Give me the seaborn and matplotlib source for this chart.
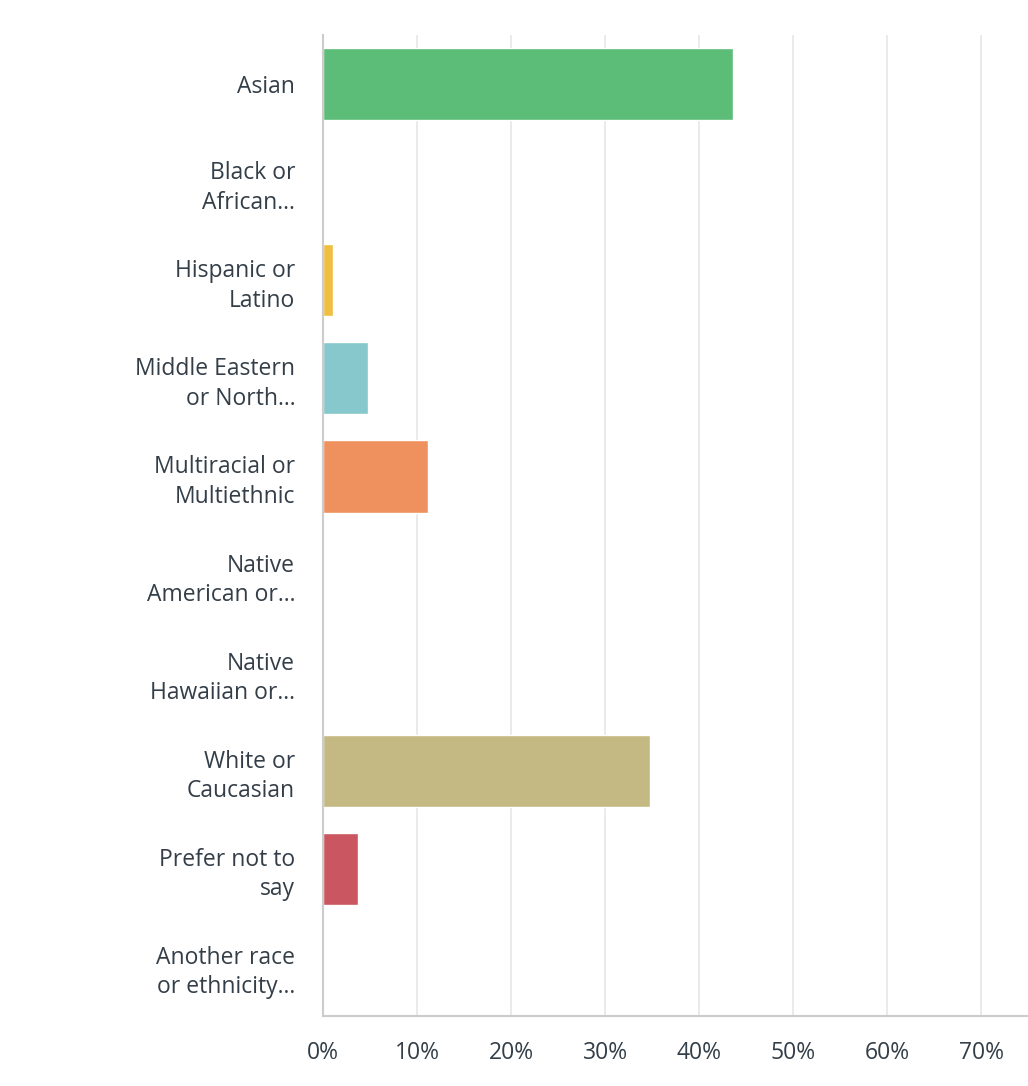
import matplotlib
matplotlib.use('Agg')
import matplotlib.pyplot as plt
import seaborn as sns
import pandas as pd
from matplotlib.ticker import FuncFormatter

# Answer choices and share of respondents (%)
categories = ['Asian', 'Black or\nAfrican...', 'Hispanic or\nLatino', 'Middle Eastern\nor North...',
              'Multiracial or\nMultiethnic', 'Native\nAmerican or...', 'Native\nHawaiian or...',
              'White or\nCaucasian', 'Prefer not to\nsay', 'Another race\nor ethnicity...']
percent = [43.6, 0.0, 1.1, 4.8, 11.2, 0.0, 0.0, 34.8, 3.7, 0.0]
colors = ['#5bbd77', '#6aa9d8', '#f0bf42', '#86c8cc', '#ef915e',
          '#9a86c4', '#7fb8a0', '#c4b982', '#c95661', '#8d9ab0']
x_ticks = [0, 10, 20, 30, 40, 50, 60, 70]

df = pd.DataFrame({'category': categories, 'percent': percent})

sns.set_theme(style='white')
plt.rcParams['font.family'] = ['Open Sans', 'DejaVu Sans']

fig = plt.figure(figsize=(10.28, 10.86), dpi=100)
ax = fig.add_axes([323 / 1028, 1 - 1016 / 1086, (1028 - 323) / 1028, (1016 - 35) / 1086])

sns.barplot(data=df, x='percent', y='category', hue='category', palette=colors,
            legend=False, width=0.735, saturation=1, ax=ax)

ax.set_xlim(0, 75)
ax.set_xticks(x_ticks)
ax.xaxis.set_major_formatter(FuncFormatter(lambda v, p: f'{v:.0f}%'))
ax.grid(axis='x', color='#e6e6e6', linewidth=1.2)
ax.set_axisbelow(True)
ax.set_xlabel('')
ax.set_ylabel('')

for side in ['top', 'right']:
    ax.spines[side].set_visible(False)
for side in ['left', 'bottom']:
    ax.spines[side].set_color('#cccccc')
    ax.spines[side].set_linewidth(1.5)

ax.tick_params(axis='x', length=0, pad=18, labelsize=16.5, labelcolor='#333e48')
ax.tick_params(axis='y', length=0, pad=20, labelsize=16.5, labelcolor='#333e48')
for lab in ax.get_yticklabels():
    lab.set_linespacing(1.3)
    lab.set_horizontalalignment('right')
    lab.set_multialignment('right')

fig.savefig('out.png', dpi=100, facecolor='white')
